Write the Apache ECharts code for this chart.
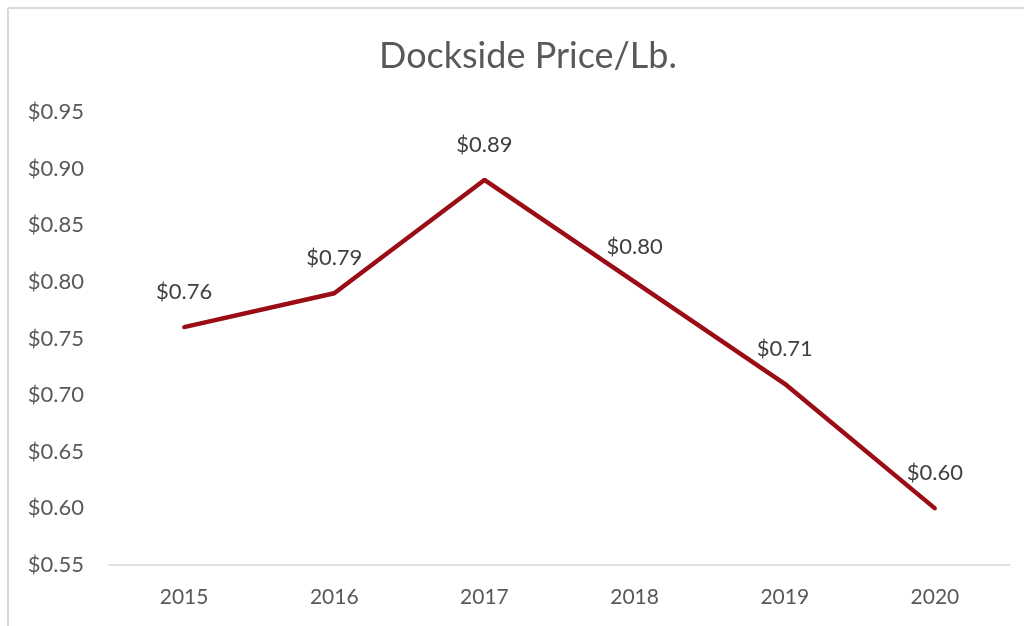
<!DOCTYPE html>
<html>
<head>
<meta charset="utf-8">
<script src="https://cdn.jsdelivr.net/npm/echarts@6/dist/echarts.min.js"></script>
<style>html,body{margin:0;padding:0;background:#fff}#c{width:1024px;height:626px}</style>
</head>
<body>
<div id="c"></div>
<script>
var title = 'Dockside Price/Lb.';
var years = ['2015', '2016', '2017', '2018', '2019', '2020'];
var prices = [0.76, 0.79, 0.89, 0.80, 0.71, 0.60];
var yMin = 0.55, yMax = 0.95, yStep = 0.05;

var chart = echarts.init(document.getElementById('c'));
var font = 'Lato, "Open Sans", sans-serif';
chart.setOption({
  backgroundColor: '#fff',
  animation: false,
  title: {
    text: title, left: 374, top: 33,
    textStyle: { fontFamily: font, fontSize: 36, fontWeight: 'normal', color: '#595959' }
  },
  graphic: [
    { type: 'line', shape: { x1: 8, y1: 8, x2: 1030, y2: 8 }, style: { stroke: '#D9D9D9', lineWidth: 2 } },
    { type: 'line', shape: { x1: 8, y1: 8, x2: 8, y2: 640 }, style: { stroke: '#D9D9D9', lineWidth: 2 } }
  ],
  grid: { left: 109, right: 14, top: 112, bottom: 61, containLabel: false },
  xAxis: {
    type: 'category', data: years, boundaryGap: true,
    axisLine: { lineStyle: { color: '#D9D9D9', width: 1.5 } },
    axisTick: { show: false },
    axisLabel: { fontFamily: font, fontSize: 21, color: '#595959', margin: 22 }
  },
  yAxis: {
    type: 'value', min: yMin, max: yMax, interval: yStep,
    axisLine: { show: false }, axisTick: { show: false }, splitLine: { show: false },
    axisLabel: {
      fontFamily: font, fontSize: 22, color: '#595959', margin: 25,
      formatter: function (v) { return '$' + v.toFixed(2); }
    }
  },
  series: [{
    type: 'line', data: prices, symbol: 'circle', symbolSize: 4, showSymbol: true,
    lineStyle: { color: '#9B0D14', width: 4.5 },
    itemStyle: { color: '#9B0D14' },
    label: {
      show: true, position: 'top', distance: 22,
      fontFamily: font, fontSize: 22, color: '#404040',
      formatter: function (p) { return '$' + p.value.toFixed(2); }
    }
  }]
});
</script>
</body>
</html>
